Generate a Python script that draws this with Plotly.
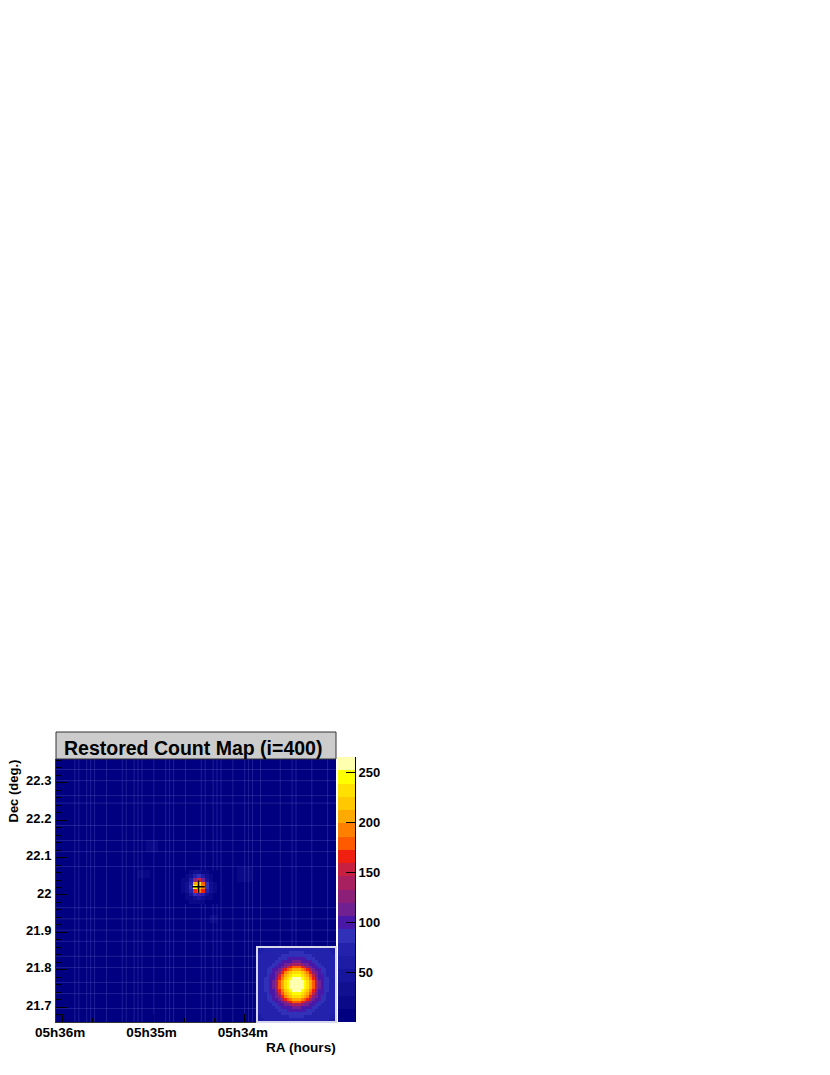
import numpy as np
import plotly.graph_objects as go

W, H = 830, 1075
FONT = "Liberation Sans"

# colour levels, bottom to top
level_colors = ["#000080", "#0a0a88", "#101090", "#16169c", "#1c1ca4", "#2222ac", "#3030b8",
                "#4a18a8", "#702090", "#8c2078", "#a82060", "#c82040", "#f02010", "#ff5a00",
                "#ff8000", "#ffaa00", "#ffc800", "#ffe000", "#ffff00", "#ffffb0"]
z_max = 265
cbar_ticks = [50, 100, 150, 200, 250]

ra_ticks = [36, 35, 34]
ra_labels = ["05h36m", "05h35m", "05h34m"]
dec_ticks = [21.7, 21.8, 21.9, 22.0, 22.1, 22.2, 22.3]
dec_labels = ["21.7", "21.8", "21.9", "22", "22.1", "22.2", "22.3"]

background = 5
source_i, source_j = 33, 41
source_patch = [  # top row first
    [8, 12, 18, 28, 32, 25, 16, 10, 7],
    [10, 18, 32, 70, 85, 62, 30, 16, 9],
    [14, 24, 55, 120, 155, 110, 50, 22, 12],
    [16, 30, 75, 200, 238, 178, 80, 28, 14],
    [18, 32, 85, 245, 215, 195, 88, 30, 15],
    [16, 30, 70, 170, 190, 160, 72, 28, 14],
    [12, 22, 40, 85, 95, 75, 38, 20, 11],
    [9, 16, 24, 38, 42, 34, 22, 14, 9],
    [7, 10, 14, 18, 20, 16, 13, 9, 6],
]
faint_patches = [
    (24, 49, [[15, 18, 15], [18, 20, 18], [16, 18, 15]]),
    (22, 41, [[14, 15, 14], [15, 16, 15]]),
    (47, 42, [[15, 18, 18, 15], [18, 24, 24, 18], [20, 26, 24, 18], [15, 18, 16, 14]]),
    (40, 29, [[14, 16], [15, 16]]),
]
seam_cols = [6, 7, 9, 10, 11, 14, 18, 19, 21, 22, 23, 26, 29, 30, 31, 34, 38, 39, 41, 42, 43,
             46, 49, 50, 51, 53, 58, 61, 62, 66, 70]
seam_rows = [69, 66, 62, 60, 54, 50, 47, 43, 32, 29, 26, 23, 19, 16, 12, 9, 5]

target_ra = [34.508]
target_dec = [22.022]

psf_quadrant = [
    [264, 262, 254, 245, 228, 205, 178, 135, 108, 98, 88, 80, 77, 74],
    [262, 258, 253, 243, 226, 203, 175, 133, 107, 98, 88, 80, 77, 74],
    [254, 253, 247, 238, 217, 195, 165, 126, 105, 96, 86, 80, 77, 74],
    [245, 243, 238, 223, 205, 182, 148, 116, 102, 94, 85, 79, 76, 73],
    [228, 226, 217, 205, 188, 160, 128, 107, 99, 90, 82, 78, 75, 73],
    [205, 203, 195, 182, 160, 133, 112, 102, 95, 86, 80, 77, 74, 72],
    [178, 175, 165, 148, 128, 112, 102, 96, 88, 81, 78, 75, 73, 71],
    [135, 133, 126, 116, 107, 102, 96, 89, 83, 79, 76, 74, 72, 70],
    [108, 107, 105, 102, 99, 95, 88, 83, 79, 77, 75, 73, 71, 69],
    [98, 98, 96, 94, 90, 86, 81, 79, 77, 75, 73, 71, 70, 68],
    [88, 88, 86, 85, 82, 80, 78, 76, 75, 73, 71, 70, 68, 67],
    [80, 80, 80, 79, 78, 77, 75, 74, 73, 71, 70, 68, 67, 66],
    [77, 77, 77, 76, 75, 74, 73, 72, 71, 70, 68, 67, 66, 64],
]

# grid of the map: 0.01 deg cells
x_edges = 36.1186 - 0.04317 * np.arange(74)
y_edges = 21.646 + 0.01 * np.arange(73)
z = np.full((72, 73), float(background))


def put(i0, j_top, rows):
    for r, row in enumerate(rows):
        for c, v in enumerate(row):
            z[j_top - r, i0 + c] = v


for p in faint_patches:
    put(*p)
put(source_i, source_j, source_patch)

n = len(level_colors)
colorscale = []
for k, c in enumerate(level_colors):
    colorscale += [[k / n, c], [(k + 1) / n, c]]

q = np.array(psf_quadrant, dtype=float)
half = np.hstack([q[:, :0:-1], q])
psf = np.vstack([half[:0:-1], half])

bar_edges = np.linspace(0, z_max, n + 1)
bar_z = [[(bar_edges[k] + bar_edges[k + 1]) / 2] for k in range(n)]

fig = go.Figure()
fig.add_trace(go.Heatmap(x=x_edges, y=y_edges, z=z, zmin=0, zmax=z_max, colorscale=colorscale,
                         showscale=False, zsmooth=False))
fig.add_trace(go.Heatmap(z=psf, zmin=0, zmax=z_max, colorscale=colorscale, showscale=False,
                         xaxis="x2", yaxis="y2", zsmooth=False))
fig.add_trace(go.Heatmap(x=[0, 1], y=bar_edges, z=bar_z, zmin=0, zmax=z_max, colorscale=colorscale,
                         showscale=False, xaxis="x3", yaxis="y3", zsmooth=False))

# faint cell-boundary seams; they stop at the hot core
sx, sy = [], []
for i in seam_cols:
    if source_i <= i <= source_i + 9:
        sx += [x_edges[i], x_edges[i], None, x_edges[i], x_edges[i], None]
        sy += [21.6, y_edges[source_j - 8], None, y_edges[source_j + 1], 22.4, None]
    else:
        sx += [x_edges[i], x_edges[i], None]
        sy += [21.6, 22.4, None]
fig.add_trace(go.Scatter(x=sx, y=sy, mode="lines", line=dict(color="rgba(110,110,210,0.28)", width=1),
                         hoverinfo="skip", showlegend=False))
sx, sy = [], []
for j in seam_rows:
    sx += [37, 32, None]
    sy += [y_edges[j], y_edges[j], None]
fig.add_trace(go.Scatter(x=sx, y=sy, mode="lines", line=dict(color="rgba(110,110,210,0.28)", width=1),
                         hoverinfo="skip", showlegend=False))
fig.add_trace(go.Scatter(x=target_ra, y=target_dec, mode="markers", showlegend=False,
                         marker=dict(symbol="cross-thin", size=9, line=dict(color="black", width=1.5))))

tick_font = dict(family=FONT, size=13, color="black", weight="bold")
fig.update_layout(
    width=W, height=H, autosize=False, margin=dict(l=0, r=0, t=0, b=0, autoexpand=False),
    paper_bgcolor="white", plot_bgcolor="white", showlegend=False,
    xaxis=dict(domain=[56 / W, 336 / W], range=[36.066, 33.005], anchor="y",
               tickmode="array", tickvals=ra_ticks, ticktext=ra_labels, ticks="inside", ticklen=8,
               tickcolor="black", tickwidth=1, showgrid=False, zeroline=False,
               ticklabelshift=2, ticklabelstandoff=-2,
               tickfont=dict(family=FONT, size=13.5, color="black", weight="bold"),
               showline=True, linecolor="#333333", linewidth=1,
               minor=dict(dtick=1 / 3, tick0=33, ticks="inside", ticklen=4, tickcolor="black", tickwidth=1, showgrid=False)),
    yaxis=dict(domain=[(H - 1022) / H, (H - 759) / H], range=[21.66, 22.364], anchor="x",
               tickmode="array", tickvals=dec_ticks, ticktext=dec_labels, ticks="inside", ticklen=11,
               tickcolor="black", tickwidth=1, tickfont=tick_font, showgrid=False, zeroline=False,
               ticklabelshift=-2, ticklabelstandoff=1,
               showline=True, linecolor="#333333", linewidth=1,
               minor=dict(dtick=0.02, tick0=21.7, ticks="inside", ticklen=5, tickcolor="black", tickwidth=1, showgrid=False)),
    xaxis2=dict(domain=[258 / W, 335 / W], anchor="y2", showticklabels=False, ticks="",
                showgrid=False, zeroline=False, showline=True, mirror=True, linecolor="#d8d8ec", linewidth=1.5,
                range=[-0.5, 26.5]),
    yaxis2=dict(domain=[(H - 1021) / H, (H - 948) / H], anchor="x2", showticklabels=False, ticks="",
                showgrid=False, zeroline=False, showline=True, mirror=True, linecolor="#d8d8ec", linewidth=1.5,
                range=[-0.5, 24.5]),
    xaxis3=dict(domain=[338 / W, 355 / W], anchor="y3", range=[0, 1], showticklabels=False, ticks="",
                showgrid=False, zeroline=False),
    yaxis3=dict(domain=[(H - 1022) / H, (H - 757) / H], anchor="x3", side="right", range=[0, z_max],
                tickmode="array", tickvals=cbar_ticks, ticks="inside", ticklen=9, tickcolor="black", tickwidth=1,
                tickfont=tick_font, showgrid=False, zeroline=False, showline=True, linecolor="black", linewidth=1),
    shapes=[
        dict(type="rect", xref="paper", yref="paper", x0=56 / W, x1=336 / W, y0=(H - 759) / H, y1=(H - 732) / H,
             fillcolor="#cccccc", line=dict(color="#333333", width=1)),
    ],
    annotations=[
        dict(text="Restored Count Map (i=400)", xref="paper", yref="paper", x=62 / W, y=(H - 748) / H,
             xanchor="left", yanchor="middle", showarrow=False,
             font=dict(family=FONT, size=19.5, color="black", weight="bold")),
        dict(text="RA (hours)", xref="paper", yref="paper", x=338 / W, y=(H - 1047) / H,
             xanchor="right", yanchor="middle", showarrow=False,
             font=dict(family=FONT, size=13.6, color="black", weight="bold")),
        dict(text="Dec (deg.)", xref="paper", yref="paper", x=13 / W, y=(H - 758) / H, textangle=-90,
             xanchor="center", yanchor="top", showarrow=False,
             font=dict(family=FONT, size=13, color="black", weight="bold")),
    ],
)
fig.write_html("out.html", config=dict(displayModeBar=False),
               post_script="document.body.style.margin='0';")
